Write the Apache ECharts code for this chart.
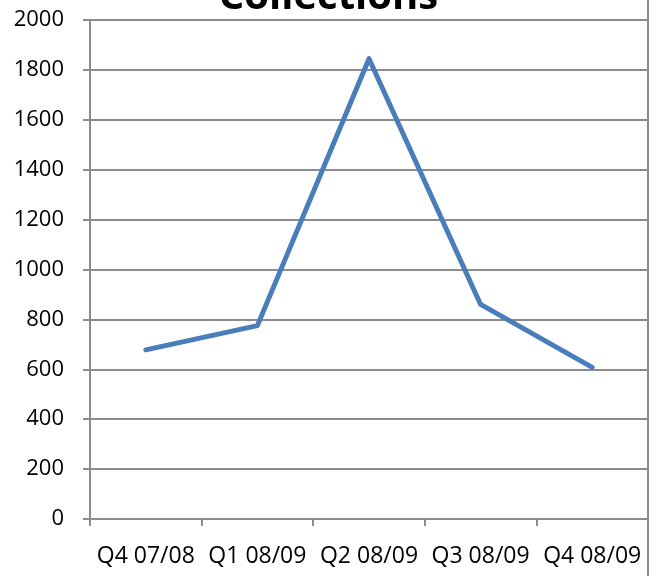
<!DOCTYPE html>
<html>
<head>
<meta charset="utf-8">
<script src="https://cdn.jsdelivr.net/npm/echarts@6/dist/echarts.min.js"></script>
<style>
  html, body { margin: 0; padding: 0; background: #fff; }
  #chart { width: 657px; height: 576px; }
</style>
</head>
<body>
<div id="chart"></div>
<script>
// quarters on the x axis
var quarters = ['Q4 07/08', 'Q1 08/09', 'Q2 08/09', 'Q3 08/09', 'Q4 08/09'];
// collections per quarter
var collections = [678, 775, 1845, 860, 608];

var lineColor = '#4a7ebb';
var gridColor = '#8c8c8c';
var fontName = 'Open Sans';

var option = {
	animation: false,
	backgroundColor: '#fff',
	title: {
		text: 'Collections',
		left: 'center',
		top: -27,
		textStyle: {
			fontFamily: fontName,
			fontSize: 40,
			fontWeight: 'bold',
			color: '#000'
		}
	},
	grid: {
		left: 90,
		right: 9,
		top: 20,
		bottom: 57
	},
	xAxis: {
		type: 'category',
		boundaryGap: true,
		data: quarters,
		axisLine: { show: true, lineStyle: { color: gridColor, width: 2 } },
		axisTick: { show: true, length: 7, lineStyle: { color: gridColor, width: 2 } },
		axisLabel: {
			margin: 26,
			fontFamily: fontName,
			fontSize: 23,
			color: '#000',
			interval: 0
		}
	},
	yAxis: {
		type: 'value',
		min: 0,
		max: 2000,
		interval: 200,
		axisLine: { show: true, lineStyle: { color: gridColor, width: 2 } },
		axisTick: { show: true, length: 7, lineStyle: { color: gridColor, width: 2 } },
		splitLine: { show: true, lineStyle: { color: gridColor, width: 2 } },
		axisLabel: {
			margin: 26,
			fontFamily: fontName,
			fontSize: 22,
			color: '#000',
			formatter: function (v) { return String(v); }
		}
	},
	graphic: [{
		// outer chart border on the right
		type: 'line',
		shape: { x1: 648, y1: 0, x2: 648, y2: 576 },
		style: { stroke: gridColor, lineWidth: 2 }
	}],
	series: [{
		type: 'line',
		data: collections,
		symbol: 'none',
		lineStyle: { color: lineColor, width: 5, cap: 'round', join: 'round' }
	}]
};

var myChart = echarts.init(document.getElementById('chart'));
myChart.setOption(option);
</script>
</body>
</html>
